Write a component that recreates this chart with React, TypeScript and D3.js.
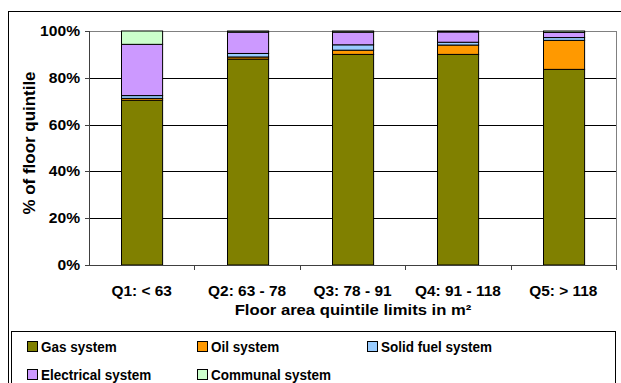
import React from "react";
import * as d3 from "d3";

// Heating system shares by floor-area quintile (percent of dwellings)
const quintiles = ["Q1: < 63", "Q2: 63 - 78", "Q3: 78 - 91", "Q4: 91 - 118", "Q5: > 118"];
const gasSystem = [70.4, 88.0, 90.0, 90.0, 83.6];
const oilSystem = [0.8, 0.9, 1.8, 4.0, 12.4];
const solidFuelSystem = [1.2, 1.5, 2.3, 1.2, 1.2];
const electricalSystem = [21.9, 9.1, 5.4, 4.4, 2.2];
const communalSystem = [5.7, 0.5, 0.5, 0.4, 0.6];

const seriesNames = ["Gas system", "Oil system", "Solid fuel system", "Electrical system", "Communal system"];
const seriesColors = ["#808000", "#FF9900", "#99CCFF", "#CC99FF", "#CCFFCC"];
const yTicks = [0, 20, 40, 60, 80, 100];

const W = 621;
const H = 383;
const plot = { left: 89, right: 616, top: 31, bottom: 265 };
const FONT = "'Liberation Sans', Arial, sans-serif";

function Label({ x, y, sx = 1, anchor = "start", size = 14, rotate = 0, children }: any) {
  return (
    <text
      transform={`translate(${x},${y}) rotate(${rotate}) scale(${sx},1)`}
      textAnchor={anchor}
      fontFamily={FONT}
      fontWeight="bold"
      fontSize={size}
      fill="#000"
    >
      {children}
    </text>
  );
}

export default function App() {
  const rows = quintiles.map((q, i) => ({
    q,
    "Gas system": gasSystem[i],
    "Oil system": oilSystem[i],
    "Solid fuel system": solidFuelSystem[i],
    "Electrical system": electricalSystem[i],
    "Communal system": communalSystem[i],
  }));
  const stacked = d3.stack<any>().keys(seriesNames)(rows);

  const x = d3.scaleBand<string>().domain(quintiles).range([plot.left, plot.right]).paddingInner(0.61).paddingOuter(0.305);
  const band = d3.scaleBand<string>().domain(quintiles).range([plot.left, plot.right]);
  const y = d3.scaleLinear().domain([0, 100]).range([plot.bottom, plot.top]);

  const legendCols = [27, 197, 367];
  const legendRows = [341, 369];

  return (
    <svg width={W} height={H} style={{ position: "absolute", left: 0, top: 0 }}>
      <rect x={0} y={0} width={W} height={H} fill="#fff" />
      {/* outer chart frame */}
      <rect x={8.5} y={11.5} width={640} height={400} fill="none" stroke="#000" strokeWidth={1} />

      {/* plot area border */}
      <line x1={plot.left} x2={plot.right + 0.5} y1={plot.top + 0.5} y2={plot.top + 0.5} stroke="#808080" />
      <line x1={plot.right + 0.5} x2={plot.right + 0.5} y1={plot.top} y2={plot.bottom} stroke="#808080" />

      {/* gridlines */}
      {yTicks.filter((t) => t > 0 && t < 100).map((t) => (
        <line key={t} x1={plot.left} x2={plot.right} y1={Math.round(y(t)) + 0.5} y2={Math.round(y(t)) + 0.5} stroke="#000" />
      ))}

      {/* bars */}
      {stacked.map((s, si) =>
        s.map((d, i) => (
          <rect
            key={`${si}-${i}`}
            x={Math.round(x(quintiles[i])!) + 0.5}
            y={y(d[1])}
            width={x.bandwidth()}
            height={y(d[0]) - y(d[1])}
            fill={seriesColors[si]}
            stroke="#000"
            strokeWidth={1}
          />
        ))
      )}

      {/* axes */}
      <line x1={plot.left + 0.5} x2={plot.left + 0.5} y1={plot.top} y2={plot.bottom} stroke="#404040" />
      <line x1={plot.left - 4} x2={plot.right + 0.5} y1={plot.bottom + 0.5} y2={plot.bottom + 0.5} stroke="#404040" />
      {yTicks.map((t) => (
        <g key={t}>
          <line x1={plot.left - 4} x2={plot.left} y1={Math.round(y(t)) + 0.5} y2={Math.round(y(t)) + 0.5} stroke="#404040" />
          <Label x={80} y={y(t) + 5} size={15} sx={1.04} anchor="end">{`${t}%`}</Label>
        </g>
      ))}
      {quintiles.map((q, i) => (
        <g key={q}>
          {i > 0 && (
            <line x1={Math.round(band(q)!) + 0.5} x2={Math.round(band(q)!) + 0.5} y1={plot.bottom} y2={plot.bottom + 5} stroke="#404040" />
          )}
          <Label x={band(q)! + band.bandwidth() / 2} y={296} size={15} sx={1.03} anchor="middle">{q}</Label>
        </g>
      ))}
      <line x1={plot.right + 0.5} x2={plot.right + 0.5} y1={plot.bottom} y2={plot.bottom + 5} stroke="#404040" />

      {/* axis titles */}
      <Label x={353} y={315} size={15} sx={1.11} anchor="middle">Floor area quintile limits in m²</Label>
      <Label x={35} y={143} size={16} sx={1.06} anchor="middle" rotate={-90}>% of floor quintile</Label>

      {/* legend */}
      <rect x={11.5} y={331.5} width={604} height={70} fill="#fff" stroke="#000" />
      {seriesNames.map((name, i) => {
        const lx = legendCols[i % 3];
        const ly = legendRows[Math.floor(i / 3)];
        return (
          <g key={name}>
            <rect x={lx + 0.5} y={ly + 0.5} width={10} height={10} fill={seriesColors[i]} stroke="#000" />
            <Label x={lx + 14} y={ly + 11} size={15} sx={0.9}>{name}</Label>
          </g>
        );
      })}
    </svg>
  );
}
